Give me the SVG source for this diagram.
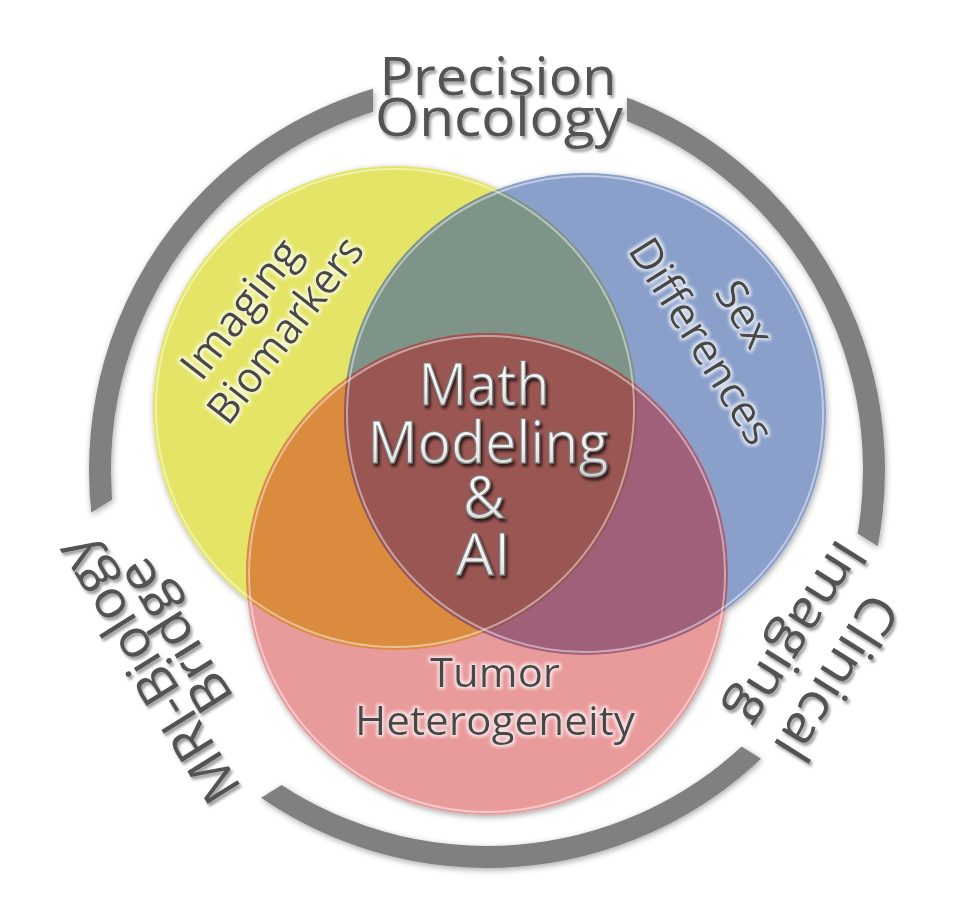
<svg xmlns="http://www.w3.org/2000/svg" width="960" height="900" viewBox="0 0 960 900">
  <defs>
    <style>
      .outer { font-family: "Open Sans", "Liberation Sans", sans-serif; font-size: 53px; fill: #525252; text-anchor: middle; }
      .inner { font-family: "Open Sans", "Liberation Sans", sans-serif; font-size: 43px; fill: #474747; text-anchor: middle; }
      .center { font-family: "Open Sans", "Liberation Sans", sans-serif; font-size: 58px; fill: url(#silver); stroke: #7a7a7a; stroke-width: 1.2; text-anchor: middle; }
      .rim { fill: none; stroke: #ffffff; stroke-opacity: 0.45; stroke-width: 2; }
    </style>
    <linearGradient id="silver" x1="0" y1="0" x2="0" y2="1">
      <stop offset="0" stop-color="#ffffff"/>
      <stop offset="0.6" stop-color="#eeeeee"/>
      <stop offset="1" stop-color="#c8c8c8"/>
    </linearGradient>
    <filter id="soft" x="-10%" y="-10%" width="120%" height="120%">
      <feGaussianBlur in="SourceAlpha" stdDeviation="3"/>
      <feOffset dx="1" dy="2" result="b"/>
      <feComponentTransfer><feFuncA type="linear" slope="0.35"/></feComponentTransfer>
      <feMerge><feMergeNode/><feMergeNode in="SourceGraphic"/></feMerge>
    </filter>
    <filter id="tshadow" x="-10%" y="-20%" width="120%" height="150%">
      <feGaussianBlur in="SourceAlpha" stdDeviation="1.5"/>
      <feOffset dx="2" dy="3"/>
      <feComponentTransfer><feFuncA type="linear" slope="0.4"/></feComponentTransfer>
      <feMerge><feMergeNode/><feMergeNode in="SourceGraphic"/></feMerge>
    </filter>
    <filter id="cshadow" x="-10%" y="-20%" width="120%" height="150%">
      <feGaussianBlur in="SourceAlpha" stdDeviation="1.5"/>
      <feOffset dx="2" dy="3"/>
      <feComponentTransfer><feFuncA type="linear" slope="0.7"/></feComponentTransfer>
      <feMerge><feMergeNode/><feMergeNode in="SourceGraphic"/></feMerge>
    </filter>
    <filter id="glow" x="-10%" y="-20%" width="120%" height="150%">
      <feMorphology in="SourceAlpha" operator="dilate" radius="2" result="d"/>
      <feGaussianBlur in="d" stdDeviation="1.5" result="g"/>
      <feFlood flood-color="#ffffff" flood-opacity="0.7"/>
      <feComposite in2="g" operator="in"/>
      <feMerge><feMergeNode/><feMergeNode in="SourceGraphic"/></feMerge>
    </filter>
    <clipPath id="clipY"><circle cx="395" cy="408" r="242"/></clipPath>
    <clipPath id="clipB"><circle cx="585" cy="414" r="241"/></clipPath>
    <mask id="ringMask" maskUnits="userSpaceOnUse" x="0" y="0" width="960" height="900">
      <rect width="960" height="900" fill="#ffffff"/>
      <rect x="373" y="40" width="254" height="120" fill="#000000"/>
      <rect transform="rotate(-122)" x="-815" y="-260" width="332" height="150" fill="#000000"/>
      <rect transform="rotate(122)" x="-2" y="-1100" width="242" height="150" fill="#000000"/>
    </mask>
  </defs>

  <rect width="960" height="900" fill="#ffffff"/>

  <g id="outer-ring" filter="url(#soft)">
    <circle cx="487" cy="470" r="387" fill="none" stroke="#808080" stroke-width="22" mask="url(#ringMask)"/>
  </g>

  <g id="venn" filter="url(#soft)">
    <g id="imaging-biomarkers">
      <circle cx="395" cy="408" r="242" fill="#e4e566"/>
    </g>
    <g id="sex-differences">
      <circle cx="585" cy="414" r="241" fill="#8aa0ca"/>
      <circle cx="585" cy="414" r="241" fill="#7f9489" clip-path="url(#clipY)"/>
    </g>
    <g id="tumor-heterogeneity">
      <circle cx="487" cy="574" r="241" fill="#e99b9c"/>
      <circle cx="487" cy="574" r="241" fill="#da8b3c" clip-path="url(#clipY)"/>
      <circle cx="487" cy="574" r="241" fill="#a0617a" clip-path="url(#clipB)"/>
      <g clip-path="url(#clipB)">
        <circle cx="487" cy="574" r="241" fill="#9a5752" clip-path="url(#clipY)"/>
      </g>
    </g>
  </g>
  <g id="rims">
    <circle class="rim" cx="395" cy="408" r="239"/>
    <circle class="rim" cx="585" cy="414" r="238"/>
    <circle class="rim" cx="487" cy="574" r="238"/>
  </g>

  <g id="label-precision-oncology" filter="url(#tshadow)">
    <text class="outer" x="498" y="95" textLength="237" lengthAdjust="spacingAndGlyphs">Precision</text>
    <text class="outer" x="499" y="136" textLength="248" lengthAdjust="spacingAndGlyphs">Oncology</text>
  </g>

  <g id="label-mri-biology-bridge" filter="url(#tshadow)">
    <text class="outer" transform="translate(163,661) rotate(-122)" x="0" y="0" textLength="300" lengthAdjust="spacingAndGlyphs">MRI-Biology</text>
    <text class="outer" transform="translate(190,626) rotate(-122)" x="0" y="0" textLength="170" lengthAdjust="spacingAndGlyphs">Bridge</text>
  </g>

  <g id="label-clinical-imaging" filter="url(#tshadow)">
    <text class="outer" transform="translate(821,668) rotate(122)" x="0" y="0" textLength="185" lengthAdjust="spacingAndGlyphs">Clinical</text>
    <text class="outer" transform="translate(783,624) rotate(122)" x="0" y="0" textLength="207" lengthAdjust="spacingAndGlyphs">Imaging</text>
  </g>

  <g id="label-imaging-biomarkers" filter="url(#glow)">
    <text class="inner" transform="translate(252,318) rotate(-52)" x="0" y="0" textLength="165" lengthAdjust="spacingAndGlyphs">Imaging</text>
    <text class="inner" transform="translate(297,339) rotate(-52)" x="0" y="0" textLength="224" lengthAdjust="spacingAndGlyphs">Biomarkers</text>
  </g>

  <g id="label-sex-differences" filter="url(#glow)">
    <text class="inner" transform="translate(732,322) rotate(58)" x="0" y="0" textLength="70" lengthAdjust="spacingAndGlyphs">Sex</text>
    <text class="inner" transform="translate(689,349) rotate(58)" x="0" y="0" textLength="234" lengthAdjust="spacingAndGlyphs">Differences</text>
  </g>

  <g id="label-tumor-heterogeneity" filter="url(#glow)">
    <text class="inner" x="495" y="687" style="font-size:41px" textLength="130" lengthAdjust="spacingAndGlyphs">Tumor</text>
    <text class="inner" x="495" y="735" style="font-size:41px" textLength="280" lengthAdjust="spacingAndGlyphs">Heterogeneity</text>
  </g>

  <g id="label-math-modeling-ai" filter="url(#cshadow)">
    <text class="center" x="484" y="405" textLength="131" lengthAdjust="spacingAndGlyphs">Math</text>
    <text class="center" x="488" y="463" textLength="241" lengthAdjust="spacingAndGlyphs">Modeling</text>
    <text class="center" x="484" y="518">&amp;</text>
    <text class="center" x="483" y="575" textLength="55" lengthAdjust="spacingAndGlyphs">AI</text>
  </g>
</svg>
